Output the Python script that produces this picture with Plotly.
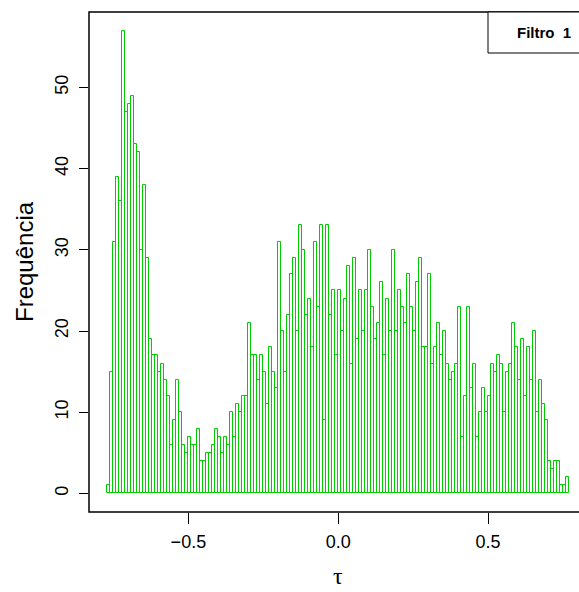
import numpy as np
import plotly.graph_objects as go

# Histogram of tau estimates: 154 bins of width 0.01 covering [-0.77, 0.77]
bin_start = -0.77
bin_width = 0.01
counts = [
    1, 15, 31, 39, 36, 57, 47, 48, 49, 43,
    42, 30, 38, 29, 19, 17, 17, 15, 16, 14,
    12, 6, 9, 14, 10, 6, 5, 7, 6, 6,
    8, 4, 4, 5, 5, 6, 8, 7, 5, 7,
    6, 10, 7, 11, 10, 12, 12, 21, 17, 17,
    14, 17, 15, 11, 18, 15, 13, 31, 20, 15,
    22, 27, 29, 20, 33, 30, 22, 24, 18, 31,
    23, 33, 9, 33, 22, 25, 17, 25, 20, 24,
    28, 16, 29, 19, 25, 20, 25, 30, 23, 19,
    21, 26, 17, 24, 20, 30, 20, 25, 23, 21,
    27, 23, 20, 26, 29, 18, 18, 27, 16, 18,
    21, 17, 20, 16, 14, 15, 16, 23, 7, 12,
    23, 13, 16, 7, 10, 13, 10, 12, 16, 15,
    17, 16, 10, 15, 16, 21, 18, 14, 19, 12,
    18, 14, 20, 10, 14, 11, 9, 4, 3, 4,
    4, 1, 1, 2,
]
x_ticks = [-0.5, 0.0, 0.5]
y_ticks = [0, 10, 20, 30, 40, 50]
legend_label = "Filtro  1"
x_label = "τ"
y_label = "Frequência"

n_bins = len(counts)
edges = bin_start + bin_width * np.arange(n_bins + 1)
centers = (edges[:-1] + edges[1:]) / 2

# R-style axis extension (4% on each side)
x_lo, x_hi = edges[0], edges[-1]
x_pad = 0.04 * (x_hi - x_lo)
y_pad = 0.04 * max(counts)

W, H = 579, 592
L, R_, T, B = 89, 0, 12, 80
plot_w = W - L - R_
plot_h = H - T - B
full_w = 498.5  # full plotting region width (right part falls outside the page)
x_range = [x_lo - x_pad, x_lo - x_pad + (x_hi - x_lo + 2 * x_pad) * plot_w / full_w]

tick_font = dict(family="Liberation Sans, Arial, sans-serif", size=18, color="black")

fig = go.Figure(
    go.Bar(
        x=centers,
        y=counts,
        width=bin_width,
        marker=dict(color="rgba(0,0,0,0)", line=dict(color="#00CD00", width=1)),
        hoverinfo="x+y",
    )
)

fig.update_layout(
    width=W,
    height=H,
    margin=dict(l=L, r=R_, t=T, b=B, pad=0),
    paper_bgcolor="white",
    plot_bgcolor="white",
    showlegend=False,
    bargap=0,
    xaxis=dict(
        range=x_range,
        tickvals=x_ticks,
        tickformat=".1f",
        ticks="outside",
        ticklen=11,
        tickwidth=1.2,
        tickcolor="black",
        tickfont=tick_font,
        showgrid=False,
        zeroline=False,
        showline=False,
        ticklabelstandoff=2,
    ),
    yaxis=dict(
        range=[-y_pad, max(counts) + y_pad],
        tickvals=y_ticks,
        ticks="outside",
        ticklen=9,
        tickwidth=1.2,
        tickcolor="black",
        tickangle=-90,
        tickfont=tick_font,
        showgrid=False,
        zeroline=False,
        showline=False,
        ticklabelstandoff=4,
    ),
)

# Plot frame (right side runs past the page edge)
fig.add_shape(
    type="rect", xref="paper", yref="paper",
    x0=0, x1=1.05, y0=0, y1=1,
    line=dict(color="black", width=1.5), fillcolor="rgba(0,0,0,0)", layer="above",
)

# Legend box in the top-right corner
leg_left_px, leg_bottom_px = 488, 53
fig.add_shape(
    type="rect", xref="paper", yref="paper",
    x0=(leg_left_px - L) / plot_w, x1=1.05,
    y0=(H - B - leg_bottom_px) / plot_h, y1=1,
    line=dict(color="black", width=1), fillcolor="white", layer="above",
)
fig.add_annotation(
    text=legend_label, xref="paper", yref="paper",
    x=(544 - L) / plot_w, y=(H - B - 32.5) / plot_h,
    showarrow=False, xanchor="center", yanchor="middle",
    font=dict(family="Liberation Sans, Arial, sans-serif", size=15, color="black", weight="bold"),
)

# Axis titles
fig.add_annotation(
    text=y_label, xref="paper", yref="paper",
    x=(24 - L) / plot_w, y=0.5, textangle=-90,
    showarrow=False, xanchor="center", yanchor="middle",
    font=dict(family="Liberation Sans, Arial, sans-serif", size=24, color="black"),
)
fig.add_annotation(
    text=x_label, xref="x", yref="paper",
    x=0.0, y=(H - B - 591) / plot_h,
    showarrow=False, xanchor="center", yanchor="bottom",
    font=dict(family="Liberation Serif, Times New Roman, serif", size=24, color="black"),
)

fig.write_html("out.html")
